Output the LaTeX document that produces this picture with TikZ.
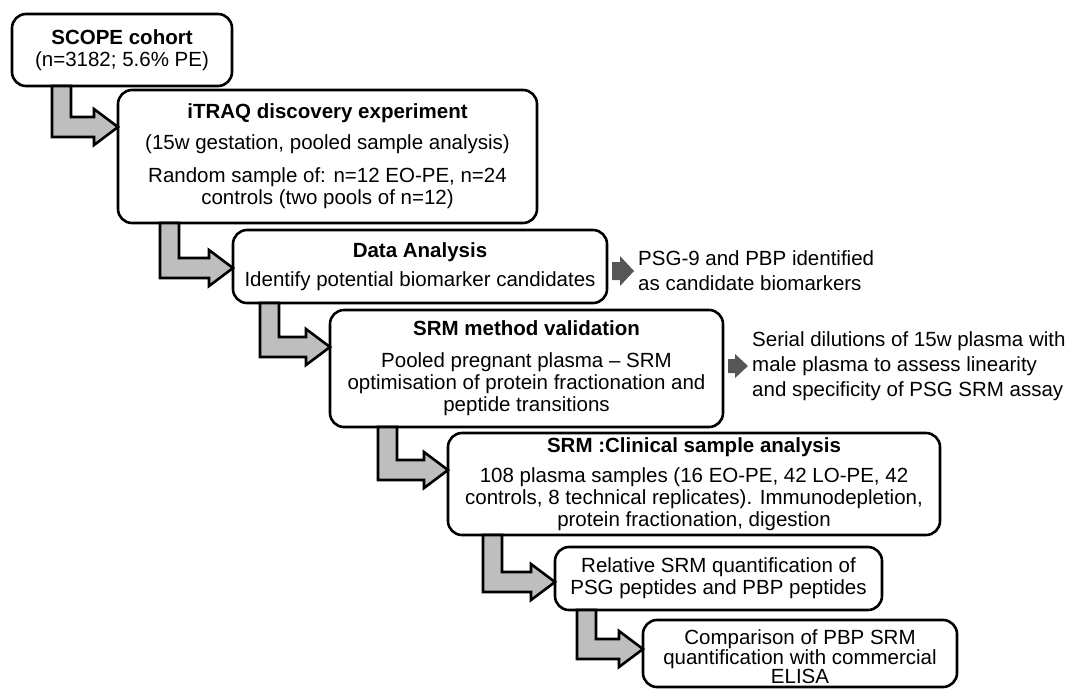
\documentclass[tikz,border=0pt]{standalone}
\usepackage{fontspec}
\setmainfont{Liberation Sans}
\usetikzlibrary{calc}
\definecolor{arrgray}{HTML}{BEBEBE}
\definecolor{darkarrow}{HTML}{565656}
\newcommand\bigarr[4]{% #1 src, #2 dst, #3 stem left x, #4 axis y
  \draw[bigarrow] (#1.south -| #3,0) -- ++(19,0) |- ($(#2.west|-0,#4)+(-24,-10)$) -- ++(0,-8)
    -- (#2.west|-0,#4) -- ++(-24,18) -- ++(0,-8) -| (#1.south -| #3,0) -- cycle;}
\newcommand\sidearr[5]{% #1 src, #2 dst, #3 head length, #4 shaft half, #5 head half
  \fill[darkarrow] ($(#1.east|-#2.west)+(5,-#4)$) -- ($(#2.west)+(-4-#3,-#4)$)
    -- ($(#2.west)+(-4-#3,-#5)$) -- ($(#2.west)+(-4,0)$) -- ($(#2.west)+(-4-#3,#5)$)
    -- ($(#2.west)+(-4-#3,#4)$) -- ($(#1.east|-#2.west)+(5,#4)$) -- cycle;}
\begin{document}
\begin{tikzpicture}[x=1pt,y=-1pt,
  box/.style={draw=black, line width=2.6pt, rounded corners=14pt, fill=white,
    align=center, inner sep=2pt, outer sep=0pt, anchor=north west,
    font=\fontsize{20.5}{22}\selectfont},
  txt/.style={align=center, inner sep=0pt, font=\fontsize{20.5}{19}\selectfont},
  side/.style={align=left, inner sep=0pt, anchor=west, font=\fontsize{20.5}{25}\selectfont},
  bigarrow/.style={draw=black, fill=arrgray, line width=2.6pt, line join=miter}]
\useasboundingbox (0,0) rectangle (1067,689);

\node[box, minimum width=220, minimum height=72] (b1) at (12,14)
  {\textbf{SCOPE cohort}\\(n=3182; 5.6\% PE)};
\node[box, minimum width=419, minimum height=133] (b2) at (118,90)
  {\textbf{iTRAQ discovery experiment}\\[9pt](15w gestation, pooled sample analysis)\\[11pt]Random sample of: n=12 EO-PE, n=24\\controls (two pools of n=12)};
\node[box, minimum width=374, minimum height=73] (b3) at (233,230)
  {\textbf{Data Analysis}\\[7pt]Identify potential biomarker candidates};
\node[box, minimum width=393, minimum height=117] (b4) at (330,310)
  {\textbf{SRM method validation}\\[10pt]Pooled pregnant plasma – SRM\\optimisation of protein fractionation and\\peptide transitions};
\node[box, minimum width=492, minimum height=102] (b5) at (448,433)
  {\textbf{SRM :Clinical sample analysis}\\[8pt]108 plasma samples (16 EO-PE, 42 LO-PE, 42\\controls, 8 technical replicates). Immunodepletion,\\protein fractionation, digestion};
\node[box, minimum width=327, minimum height=63] (b6) at (555,547)
  {Relative SRM quantification of\\PSG peptides and PBP peptides};
\node[box, minimum width=314, minimum height=67] (b7) at (643,620) {};
\node[txt] (b7t) at ($(b7.center)+(0,3)$)
  {Comparison of PBP SRM\\quantification with commercial\\ELISA};

\node[side] (s1) at (638,271) {PSG-9 and PBP identified\\as candidate biomarkers};
\node[side] (s2) at (752,366) {Serial dilutions of 15w plasma with\\male plasma to assess linearity\\and specificity of PSG SRM assay};

\bigarr{b1}{b2}{52}{127}
\bigarr{b2}{b3}{160}{268}
\bigarr{b3}{b4}{260}{347}
\bigarr{b4}{b5}{378}{470}
\bigarr{b5}{b6}{483}{582}
\bigarr{b6}{b7}{577}{649}

\sidearr{b3}{s1}{14}{9}{15}
\sidearr{b4}{s2}{13}{7}{12}
\end{tikzpicture}
\end{document}
